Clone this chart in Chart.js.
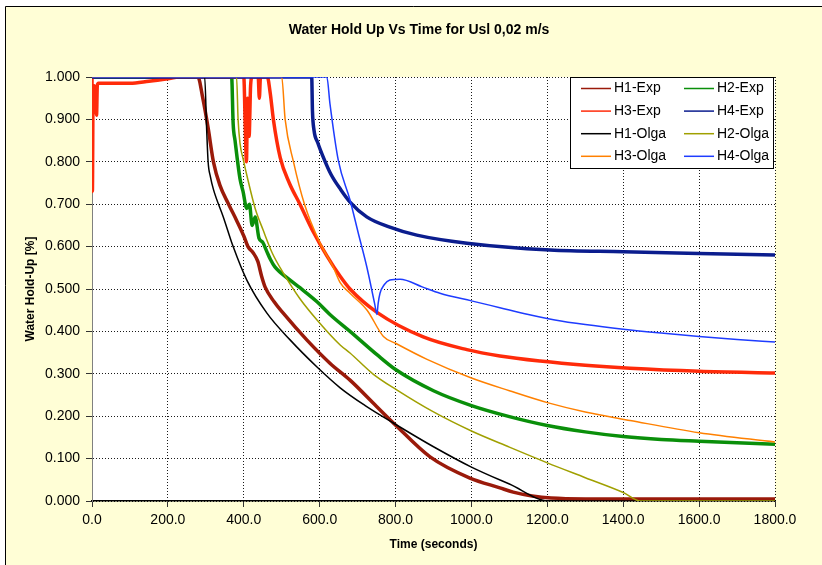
<!DOCTYPE html>
<html>
<head>
<meta charset="utf-8">
<script src="https://cdn.jsdelivr.net/npm/chart.js@4.4.1/dist/chart.umd.min.js"></script>
<style>
  body { margin: 0; background: #ffffff; }
  canvas { display: block; }
</style>
</head>
<body>
<canvas id="grafico" width="822" height="565"></canvas>
<script>
const titulo = "Water Hold Up Vs Time for Usl 0,02 m/s";
const tituloX = "Time (seconds)";
const tituloY = "Water Hold-Up [%]";

// time (s) / water hold-up
const tH1Exp = [0, 279, 292, 306, 320, 337, 360, 382, 400, 411, 425, 437, 447, 456, 480, 504, 566, 627, 680, 750, 799, 891, 996, 1075, 1110, 1160, 1210, 1300, 1800];
const vH1Exp = [1.0, 1.0, 0.95, 0.88, 0.80, 0.745, 0.70, 0.66, 0.625, 0.60, 0.585, 0.565, 0.53, 0.505, 0.47, 0.443, 0.38, 0.325, 0.285, 0.223, 0.18, 0.104, 0.054, 0.031, 0.021, 0.012, 0.007, 0.005, 0.005];

const tH2Exp = [0, 368, 372, 377, 390, 398, 408, 415, 422, 430, 440, 450, 460, 470, 482, 522, 548, 593, 627, 680, 751, 800, 900, 1000, 1100, 1200, 1300, 1400, 1500, 1600, 1800];
const vH2Exp = [1.0, 1.0, 0.89, 0.85, 0.76, 0.73, 0.69, 0.70, 0.65, 0.67, 0.62, 0.61, 0.59, 0.57, 0.552, 0.521, 0.503, 0.47, 0.44, 0.40, 0.345, 0.31, 0.26, 0.225, 0.199, 0.178, 0.163, 0.152, 0.145, 0.141, 0.134];

const tH3Exp = [0, 1, 3, 8, 12, 14, 17, 40, 100, 150, 200, 230, 400, 404, 407, 410, 414, 418, 422, 438, 441, 444, 462, 470, 478, 496, 520, 548, 583, 619, 654, 680, 751, 873, 988, 1075, 1181, 1300, 1418, 1600, 1800];
const vH3Exp = [1.0, 0.73, 0.98, 0.975, 0.91, 0.98, 0.985, 0.985, 0.985, 0.99, 0.996, 1.0, 1.0, 0.88, 0.80, 0.95, 0.86, 0.98, 1.0, 1.0, 0.95, 1.0, 1.0, 0.96, 0.90, 0.81, 0.75, 0.70, 0.635, 0.578, 0.53, 0.50, 0.445, 0.387, 0.357, 0.342, 0.330, 0.320, 0.313, 0.306, 0.302];

const tH4Exp = [0, 579, 581, 585, 595, 610, 630, 655, 680, 724, 781, 856, 988, 1207, 1400, 1600, 1800];
const vH4Exp = [1.0, 1.0, 0.92, 0.875, 0.845, 0.81, 0.77, 0.735, 0.705, 0.67, 0.647, 0.627, 0.608, 0.592, 0.588, 0.584, 0.58];

const tH1Olga = [0, 297, 302, 306, 312, 320, 346, 372, 408, 461, 522, 593, 654, 720, 794, 900, 1000, 1100, 1205, 1800];
const vH1Olga = [1.0, 1.0, 0.88, 0.80, 0.765, 0.735, 0.67, 0.60, 0.521, 0.443, 0.38, 0.316, 0.267, 0.225, 0.184, 0.128, 0.08, 0.04, 0.0, 0.0];

const tH2Olga = [0, 381, 385, 390, 399, 411, 430, 451, 475, 504, 548, 593, 654, 680, 740, 803, 900, 1000, 1100, 1200, 1300, 1400, 1445, 1800];
const vH2Olga = [1.0, 1.0, 0.90, 0.844, 0.804, 0.757, 0.69, 0.639, 0.585, 0.538, 0.477, 0.427, 0.368, 0.349, 0.30, 0.262, 0.21, 0.165, 0.127, 0.09, 0.055, 0.02, 0.0, 0.0];

const tH3Olga = [0, 500, 509, 531, 560, 600, 635, 654, 680, 725, 768, 800, 883, 1000, 1100, 1200, 1300, 1418, 1600, 1800];
const vH3Olga = [1.0, 1.0, 0.90, 0.80, 0.70, 0.61, 0.553, 0.515, 0.49, 0.45, 0.388, 0.372, 0.334, 0.29, 0.26, 0.232, 0.21, 0.19, 0.161, 0.139];

const tH4Olga = [0, 619, 627, 649, 680, 702, 724, 745, 751, 754, 759, 770, 785, 812, 870, 917, 1000, 1075, 1150, 1220, 1300, 1400, 1500, 1600, 1700, 1800];
const vH4Olga = [1.0, 1.0, 0.938, 0.804, 0.71, 0.631, 0.553, 0.465, 0.44, 0.465, 0.49, 0.51, 0.521, 0.523, 0.505, 0.49, 0.472, 0.456, 0.44, 0.427, 0.416, 0.405, 0.396, 0.388, 0.381, 0.375];

const xMin = 0, xMax = 1800, xPaso = 200;
const yMin = 0, yMax = 1, yPaso = 0.1;

const fuente = "'Liberation Sans', Arial, sans-serif";

function puntos(t, v) {
    return t.map((x, i) => ({ x: x, y: v[i] }));
}

function serie(nombre, t, v, color, ancho, orden) {
    return {
        label: nombre,
        data: puntos(t, v),
        borderColor: color,
        backgroundColor: color,
        borderWidth: ancho,
        pointRadius: 0,
        cubicInterpolationMode: 'monotone',
        order: orden
    };
}

// background, chart border and plot area
const fondoPlugin = {
    id: 'fondo',
    beforeDraw(chart) {
        const ctx = chart.ctx;
        const a = chart.chartArea;
        ctx.save();
        ctx.fillStyle = '#ffffff';
        ctx.fillRect(0, 0, chart.width, chart.height);
        ctx.fillStyle = '#FFFED6';
        ctx.fillRect(5, 6, chart.width - 5, chart.height - 6);
        ctx.strokeStyle = '#000000';
        ctx.lineWidth = 1;
        ctx.beginPath();
        ctx.moveTo(5.5, chart.height);
        ctx.lineTo(5.5, 6.5);
        ctx.lineTo(chart.width, 6.5);
        ctx.stroke();
        ctx.fillStyle = '#ffffff';
        ctx.fillRect(a.left, a.top, a.right - a.left, a.bottom - a.top);
        ctx.restore();
    },
    afterDraw(chart) {
        const ctx = chart.ctx;
        ctx.save();
        ctx.fillStyle = '#000000';
        ctx.font = "bold 14px " + fuente;
        ctx.textAlign = 'center';
        ctx.textBaseline = 'middle';
        ctx.fillText(titulo, 419, 30);
        ctx.restore();
    }
};

// legend box inside the plot, two columns
const leyendaPlugin = {
    id: 'leyenda',
    afterDraw(chart) {
        const ctx = chart.ctx;
        const cajaX = 570.5, cajaY = 77.5, cajaW = 203, cajaH = 91;
        ctx.save();
        ctx.fillStyle = '#ffffff';
        ctx.fillRect(cajaX, cajaY, cajaW, cajaH);
        ctx.strokeStyle = '#000000';
        ctx.lineWidth = 1;
        ctx.strokeRect(cajaX, cajaY, cajaW, cajaH);
        ctx.font = "14px " + fuente;
        ctx.textBaseline = 'middle';
        ctx.textAlign = 'left';
        chart.data.datasets.forEach((ds, i) => {
            const col = i % 2;
            const fila = Math.floor(i / 2);
            const x0 = col === 0 ? 581 : 684;
            const y0 = 88.5 + fila * 22.6;
            ctx.strokeStyle = ds.borderColor;
            ctx.lineWidth = 1.5;
            ctx.beginPath();
            ctx.moveTo(x0, y0);
            ctx.lineTo(x0 + 30, y0);
            ctx.stroke();
            ctx.fillStyle = '#000000';
            ctx.fillText(ds.label, x0 + 33, y0);
        });
        ctx.restore();
    }
};

const ctxLinea = document.getElementById("grafico");

const grafico = new Chart(ctxLinea, {
    type: 'line',
    data: {
        datasets: [
            serie('H1-Exp', tH1Exp, vH1Exp, '#9A1A0A', 3.5, 7),
            serie('H2-Exp', tH2Exp, vH2Exp, '#0A8F0A', 3.5, 6),
            serie('H3-Exp', tH3Exp, vH3Exp, '#FF2B0A', 3.5, 5),
            serie('H4-Exp', tH4Exp, vH4Exp, '#0B1D8E', 3.5, 4),
            serie('H1-Olga', tH1Olga, vH1Olga, '#000000', 1.5, 3),
            serie('H2-Olga', tH2Olga, vH2Olga, '#A0A000', 1.5, 2),
            serie('H3-Olga', tH3Olga, vH3Olga, '#FF8000', 1.5, 1),
            serie('H4-Olga', tH4Olga, vH4Olga, '#1E3CFF', 1.5, 0)
        ]
    },
    options: {
        responsive: false,
        animation: false,
        layout: { padding: { top: 77, right: 47, left: 0, bottom: 0 } },
        plugins: {
            legend: { display: false },
            tooltip: { enabled: false },
            title: { display: false }
        },
        scales: {
            x: {
                type: 'linear',
                min: xMin,
                max: xMax,
                afterFit: function (scale) { scale.height = 64; },
                ticks: {
                    stepSize: xPaso,
                    maxRotation: 0,
                    autoSkip: false,
                    padding: 5,
                    color: '#000000',
                    font: { family: fuente, size: 14 },
                    callback: v => Number(v).toFixed(1)
                },
                grid: { color: '#1a1a1a', lineWidth: 1, tickLength: 6, tickColor: '#333333' },
                border: { display: true, color: '#000000', width: 1.5, dash: [1, 2] },
                title: {
                    display: true,
                    text: tituloX,
                    color: '#000000',
                    font: { family: fuente, size: 12, weight: 'bold' },
                    padding: { top: 0, bottom: 13 }
                }
            },
            y: {
                min: yMin,
                max: yMax,
                afterFit: function (scale) { scale.width = 92; },
                ticks: {
                    stepSize: yPaso,
                    padding: 6,
                    color: '#000000',
                    font: { family: fuente, size: 14 },
                    callback: v => Number(v).toFixed(3)
                },
                grid: { color: '#1a1a1a', lineWidth: 1, tickLength: 6, tickColor: '#333333' },
                border: { display: true, color: '#808080', width: 1, dash: [1, 2] },
                title: {
                    display: true,
                    text: tituloY,
                    color: '#000000',
                    font: { family: fuente, size: 12, weight: 'bold' },
                    padding: { top: 23, bottom: 0 }
                }
            }
        }
    },
    plugins: [fondoPlugin, leyendaPlugin]
});
</script>
</body>
</html>
